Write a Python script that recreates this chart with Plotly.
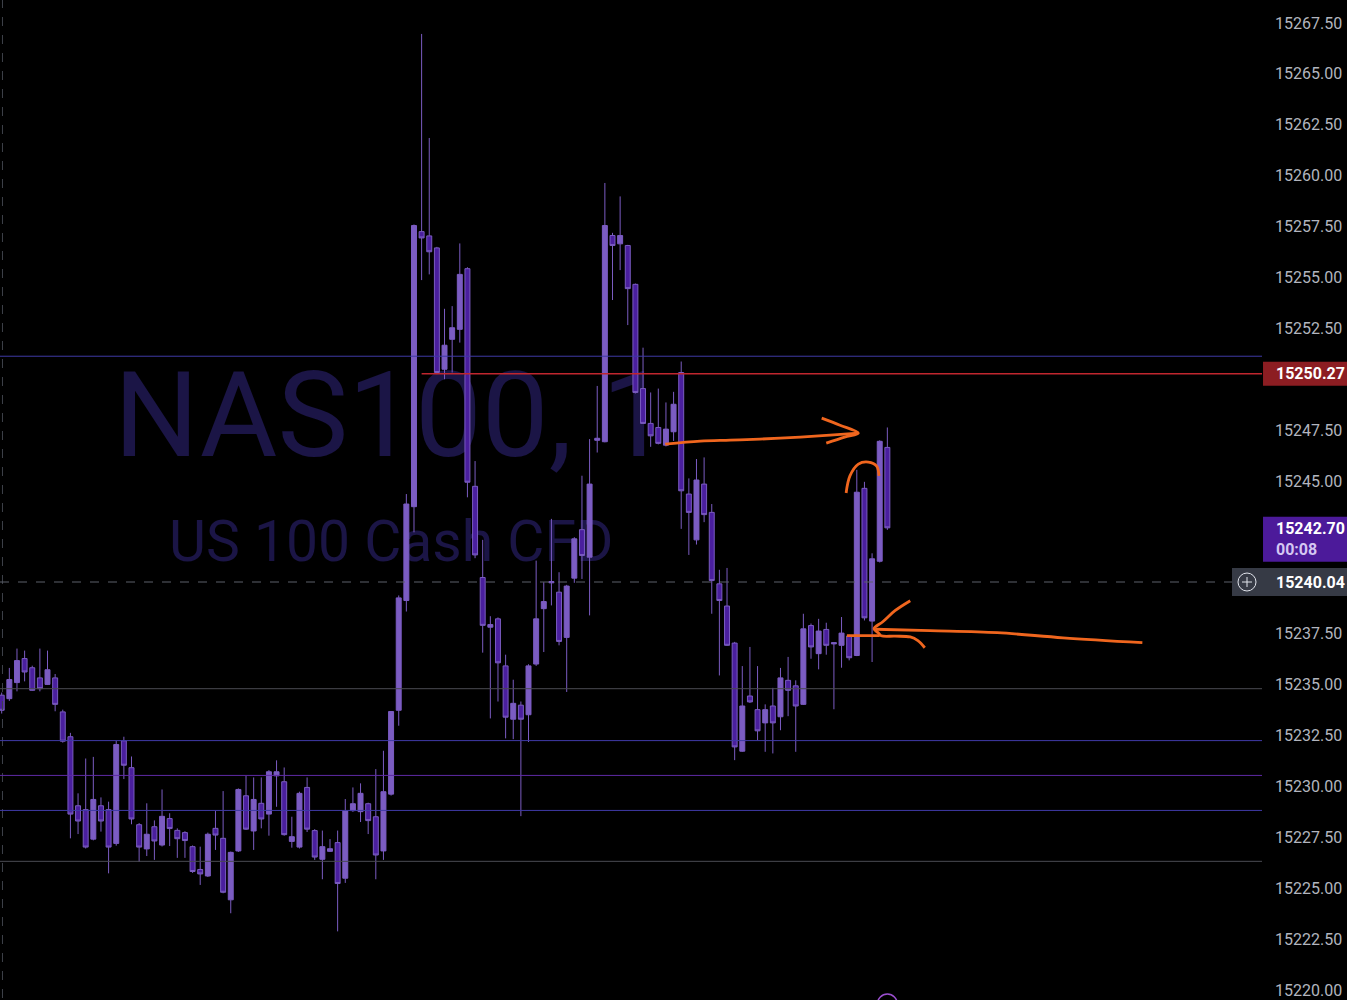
import plotly.graph_objects as go

# candle data, one entry per 1-minute bar
opens = [15234.48, 15234.31, 15235.10, 15236.28, 15235.83, 15235.33, 15235.01, 15235.33, 15233.66, 15232.44,
         15229.05, 15228.86, 15227.41, 15229.05, 15228.86, 15227.20, 15232.24, 15230.92, 15228.12, 15226.93,
         15228.02, 15227.12, 15228.42, 15227.84, 15227.73, 15227.04, 15225.92, 15225.60, 15227.94, 15227.45,
         15224.43, 15226.83, 15229.54, 15227.81, 15229.17, 15228.64, 15230.52, 15230.23, 15227.30, 15227.02,
         15229.95, 15227.83, 15226.42, 15226.81, 15227.24, 15225.49, 15228.81, 15228.76, 15229.15, 15228.51,
         15226.83, 15229.62, 15233.74, 15239.13, 15243.74, 15257.25, 15257.04, 15256.45, 15250.49, 15251.96,
         15252.45, 15255.43, 15244.74, 15240.26, 15237.82, 15238.23, 15235.92, 15233.30, 15233.99, 15233.52,
         15236.01, 15238.73, 15240.00, 15239.54, 15237.32, 15240.23, 15242.61, 15241.26, 15247.00, 15246.93,
         15257.06, 15256.65, 15256.57, 15254.66, 15249.54, 15247.83, 15247.63, 15246.76, 15247.42, 15250.33,
         15244.36, 15242.11, 15244.85, 15243.46, 15239.95, 15238.86, 15237.04, 15231.73, 15234.44, 15233.77,
         15233.12, 15233.95, 15233.42, 15235.21, 15234.94, 15234.03, 15237.90, 15236.52, 15237.71, 15237.00,
         15236.93, 15237.39, 15236.43, 15244.64, 15238.12, 15241.06, 15246.65]
highs = [15234.61, 15235.82, 15236.77, 15236.67, 15235.93, 15236.77, 15236.67, 15235.52, 15233.77, 15232.63,
         15229.66, 15231.37, 15231.45, 15229.46, 15229.25, 15232.24, 15232.44, 15231.47, 15228.20, 15229.17,
         15228.33, 15229.85, 15228.68, 15227.94, 15227.80, 15227.10, 15227.04, 15227.73, 15228.79, 15229.77,
         15226.80, 15229.90, 15230.52, 15230.44, 15230.44, 15230.80, 15231.28, 15230.93, 15228.51, 15229.74,
         15230.44, 15227.90, 15227.83, 15227.41, 15227.83, 15229.38, 15229.95, 15230.15, 15229.20, 15230.85,
         15231.75, 15233.70, 15239.38, 15244.36, 15257.60, 15266.96, 15261.85, 15256.50, 15253.46, 15253.59,
         15256.67, 15255.50, 15245.98, 15242.11, 15238.36, 15238.30, 15236.47, 15235.24, 15234.17, 15236.00,
         15241.09, 15240.03, 15243.14, 15240.52, 15239.90, 15242.24, 15245.26, 15247.06, 15249.67, 15259.64,
         15257.19, 15258.98, 15256.60, 15254.70, 15251.55, 15249.35, 15249.54, 15248.86, 15249.38, 15250.87,
         15245.13, 15246.08, 15246.16, 15243.87, 15240.64, 15240.73, 15237.10, 15235.91, 15236.85, 15235.91,
         15234.03, 15234.84, 15235.82, 15236.36, 15235.21, 15238.48, 15238.00, 15238.23, 15238.04, 15237.08,
         15238.32, 15237.45, 15245.55, 15244.96, 15241.45, 15247.00, 15247.63]
lows = [15233.58, 15234.20, 15234.67, 15235.16, 15234.70, 15234.67, 15234.98, 15233.69, 15232.15, 15227.45,
        15227.66, 15226.95, 15227.35, 15227.78, 15225.73, 15227.09, 15230.36, 15228.14, 15226.29, 15226.58,
        15226.39, 15227.05, 15227.07, 15226.49, 15226.49, 15225.75, 15225.16, 15225.55, 15226.88, 15224.75,
        15223.77, 15226.78, 15227.86, 15226.88, 15227.94, 15227.58, 15229.00, 15227.58, 15226.99, 15226.95,
        15227.76, 15226.39, 15225.44, 15226.78, 15222.88, 15225.26, 15228.75, 15228.25, 15227.66, 15225.44,
        15226.39, 15229.55, 15232.98, 15238.59, 15242.48, 15254.87, 15255.15, 15250.25, 15250.00, 15250.33,
        15251.80, 15244.20, 15241.21, 15236.57, 15233.34, 15234.17, 15232.36, 15232.32, 15228.54, 15232.18,
        15235.92, 15236.60, 15238.89, 15236.93, 15234.64, 15240.00, 15240.19, 15238.40, 15246.40, 15246.90,
        15253.89, 15255.36, 15252.66, 15249.30, 15247.80, 15246.68, 15246.80, 15246.70, 15246.97, 15242.65,
        15241.37, 15241.88, 15242.98, 15238.48, 15235.45, 15236.90, 15231.29, 15231.70, 15234.10, 15232.27,
        15231.70, 15231.62, 15232.76, 15233.45, 15231.70, 15234.00, 15236.27, 15235.75, 15236.47, 15233.79,
        15235.83, 15236.19, 15236.40, 15238.15, 15236.11, 15241.00, 15242.60]
closes = [15233.74, 15235.25, 15236.18, 15235.62, 15234.72, 15234.80, 15235.73, 15234.03, 15232.22, 15228.64,
          15228.30, 15227.02, 15229.36, 15228.30, 15227.02, 15232.06, 15231.04, 15228.40, 15227.02, 15227.65,
          15227.32, 15228.53, 15227.93, 15227.43, 15227.34, 15225.82, 15225.70, 15227.65, 15227.61, 15224.80,
          15226.76, 15229.85, 15227.90, 15229.36, 15228.40, 15230.72, 15230.72, 15227.63, 15227.53, 15229.66,
          15227.90, 15226.53, 15227.04, 15226.94, 15225.23, 15228.79, 15229.15, 15229.66, 15228.32, 15226.63,
          15229.74, 15233.68, 15239.26, 15243.87, 15257.55, 15256.94, 15256.26, 15250.33, 15251.67, 15252.53,
          15255.15, 15244.94, 15241.37, 15237.91, 15237.95, 15236.07, 15233.40, 15234.08, 15233.30, 15235.92,
          15238.23, 15239.08, 15240.06, 15237.12, 15239.84, 15242.16, 15241.34, 15244.85, 15247.10, 15257.55,
          15256.57, 15257.06, 15254.45, 15249.35, 15247.83, 15247.22, 15246.85, 15247.55, 15248.77, 15244.52,
          15243.46, 15245.05, 15243.35, 15240.11, 15239.13, 15236.93, 15231.94, 15233.95, 15234.15, 15232.73,
          15233.77, 15233.12, 15235.33, 15234.72, 15233.95, 15237.74, 15236.85, 15237.63, 15236.93, 15237.06,
          15237.53, 15236.32, 15244.45, 15238.28, 15241.18, 15246.95, 15242.70]
bars = list(range(len(closes)))

# price axis (labels hidden behind the price tags are left out)
y_ticks = [15220.0, 15222.5, 15225.0, 15227.5, 15230.0, 15232.5, 15235.0, 15237.5,
           15245.0, 15247.5, 15252.5, 15255.0, 15257.5, 15260.0, 15262.5, 15265.0, 15267.5]
last_price = 15242.70
countdown = "00:08"
prev_close = 15250.27
cursor_price = 15240.04

# horizontal levels drawn on the chart
blue_levels = [15251.13, 15232.25, 15228.82]
purple_levels = [15230.54]
gray_levels = [15234.80, 15226.32]

# freehand orange marks (bar index, price)
arrow1_x = [86.9, 91.5, 95.4, 99.3, 104.6, 108.5, 112.2]
arrow1_y = [15246.81, 15246.96, 15247.01, 15247.06, 15247.16, 15247.25, 15247.35]
head1_x = [107.4, 109.8, 112.2, 110.4, 108.0]
head1_y = [15248.09, 15247.74, 15247.35, 15247.16, 15246.86]
arc_x = [110.6, 111.1, 112.2, 113.5, 114.6, 114.9]
arc_y = [15244.41, 15245.25, 15245.83, 15245.93, 15245.73, 15245.25]
arrow2_x = [149.4, 139.0, 130.4, 121.6, 114.4]
arrow2_y = [15237.06, 15237.30, 15237.55, 15237.65, 15237.72]
head2_x = [119.0, 117.0, 115.4, 114.25, 114.8, 115.2, 117.0, 119.0, 120.0, 120.9]
head2_y = [15239.12, 15238.63, 15238.09, 15237.74, 15237.55, 15237.40, 15237.38, 15237.34, 15237.16, 15236.81]
stub_x = [110.7, 115.0]
stub_y = [15237.41, 15237.41]

W, H = 1347, 1000
R_MARGIN = 85
PLOT_W = W - R_MARGIN
X_RANGE = [-0.223, 165.07]
Y_RANGE = [15219.607, 15268.627]
PER_PX = (Y_RANGE[1] - Y_RANGE[0]) / H
RIGHT_EDGE = W / PLOT_W

fig = go.Figure()

fig.add_trace(go.Candlestick(
    x=bars, open=opens, high=highs, low=lows, close=closes,
    increasing=dict(fillcolor="#7b5cc2", line=dict(color="#7b5cc2", width=1)),
    decreasing=dict(fillcolor="#4a1f9e", line=dict(color="#7a5cc0", width=1)),
    whiskerwidth=0, hoverinfo="skip", showlegend=False))

orange = "#f0661e"
for xs, ys in [(arrow1_x, arrow1_y), (head1_x, head1_y), (arc_x, arc_y),
               (arrow2_x, arrow2_y), (head2_x, head2_y), (stub_x, stub_y)]:
    fig.add_trace(go.Scatter(x=xs, y=ys, mode="lines", line=dict(color=orange, width=2.8, shape="spline"),
                             hoverinfo="skip", showlegend=False))

shapes = []
# watermark behind candles
shapes.append(dict(type="rect", xref="paper", yref="paper", x0=0.05, x1=0.57, y0=0.543, y1=0.643,
                   layer="below", line=dict(width=0), fillcolor="rgba(0,0,0,0)",
                   label=dict(text="NAS100, 1", font=dict(size=119, color="#1b1546", family="Roboto"),
                              textposition="middle center")))
shapes.append(dict(type="rect", xref="paper", yref="paper", x0=0.05, x1=0.57, y0=0.426, y1=0.496,
                   layer="below", line=dict(width=0), fillcolor="rgba(0,0,0,0)",
                   label=dict(text="US 100 Cash CFD", font=dict(size=57, color="#1b1546", family="Roboto"),
                              textposition="middle center")))

# session separator
shapes.append(dict(type="line", xref="x", yref="paper", x0=0.1, x1=0.1, y0=0, y1=1,
                   line=dict(color="#3e414a", width=1, dash="dash")))

for lv in blue_levels:
    shapes.append(dict(type="line", xref="paper", yref="y", x0=0, x1=1, y0=lv, y1=lv,
                       line=dict(color="#3f3aa6", width=1)))
for lv in purple_levels:
    shapes.append(dict(type="line", xref="paper", yref="y", x0=0, x1=1, y0=lv, y1=lv,
                       line=dict(color="#5f2aa5", width=1)))
for lv in gray_levels:
    shapes.append(dict(type="line", xref="paper", yref="y", x0=0, x1=1, y0=lv, y1=lv,
                       line=dict(color="#4a4b52", width=1)))

# previous close line and tag
shapes.append(dict(type="line", xref="x", yref="y", x0=55, x1=X_RANGE[1], y0=prev_close, y1=prev_close,
                   line=dict(color="#c0262e", width=1.3)))
shapes.append(dict(type="rect", xref="paper", yref="y", x0=1.0008, x1=RIGHT_EDGE,
                   y0=prev_close - 12 * PER_PX, y1=prev_close + 12 * PER_PX,
                   line=dict(width=0), fillcolor="#8c1d22"))

# last price tag with countdown
shapes.append(dict(type="rect", xref="paper", yref="y", x0=1.0008, x1=RIGHT_EDGE,
                   y0=last_price - 34 * PER_PX, y1=last_price + 11 * PER_PX,
                   line=dict(width=0), fillcolor="#4c1a9a"))

# crosshair line and label
shapes.append(dict(type="line", xref="paper", yref="y", x0=0, x1=1, y0=cursor_price, y1=cursor_price,
                   line=dict(color="#5d606b", width=1, dash="dash")))
shapes.append(dict(type="rect", xref="paper", yref="y", x0=1232 / PLOT_W, x1=RIGHT_EDGE,
                   y0=cursor_price - 14 * PER_PX, y1=cursor_price + 14 * PER_PX,
                   line=dict(width=0), fillcolor="#363a45"))
cx = 1247 / PLOT_W
shapes.append(dict(type="circle", xref="paper", yref="y", x0=cx - 9 / PLOT_W, x1=cx + 9 / PLOT_W,
                   y0=cursor_price - 9 * PER_PX, y1=cursor_price + 9 * PER_PX,
                   line=dict(color="#e0e3eb", width=1)))
shapes.append(dict(type="line", xref="paper", yref="y", x0=cx - 5 / PLOT_W, x1=cx + 5 / PLOT_W,
                   y0=cursor_price, y1=cursor_price, line=dict(color="#e0e3eb", width=1)))
shapes.append(dict(type="line", xref="paper", yref="y", x0=cx, x1=cx,
                   y0=cursor_price - 5 * PER_PX, y1=cursor_price + 5 * PER_PX, line=dict(color="#e0e3eb", width=1)))

# event marker at the bottom edge
shapes.append(dict(type="circle", xref="x", yref="paper", x0=bars[-1] - 1.3, x1=bars[-1] + 1.3,
                   y0=-0.016, y1=0.004, line=dict(color="#9b4fd0", width=1.5)))

tag_font = dict(color="#ffffff", size=16, weight="bold")
annotations = [
    dict(text=f"{prev_close:.2f}", xref="paper", yref="y", x=1, y=prev_close, xanchor="left", yanchor="middle",
         xshift=12, showarrow=False, font=tag_font),
    dict(text=f"{last_price:.2f}", xref="paper", yref="y", x=1, y=last_price - 1 * PER_PX, xanchor="left",
         yanchor="middle", xshift=12, showarrow=False, font=tag_font),
    dict(text=countdown, xref="paper", yref="y", x=1, y=last_price - 22 * PER_PX, xanchor="left",
         yanchor="middle", xshift=12, showarrow=False, font=dict(color="#d4c6f2", size=16, weight="bold")),
    dict(text=f"{cursor_price:.2f}", xref="paper", yref="y", x=1, y=cursor_price, xanchor="left",
         yanchor="middle", xshift=12, showarrow=False, font=tag_font),
]

fig.update_layout(
    width=W, height=H, autosize=False,
    margin=dict(l=0, r=R_MARGIN, t=0, b=0),
    paper_bgcolor="#000000", plot_bgcolor="#000000",
    font=dict(family="Roboto", color="#b2b5be"),
    boxgap=0.35, boxgroupgap=0,
    shapes=shapes, annotations=annotations,
    xaxis=dict(range=X_RANGE, visible=False, rangeslider=dict(visible=False), fixedrange=True),
    yaxis=dict(range=Y_RANGE, side="right", tickvals=y_ticks, tickformat=".2f",
               showgrid=False, zeroline=False, showline=False, ticks="",
               ticklabelstandoff=12, ticklabeloverflow="allow",
               tickfont=dict(size=16, color="#b2b5be")),
)

# drop the default page margin so the chart fills the window
fig.write_html("out.html", config={"displayModeBar": False},
               post_script="document.body.style.margin='0';document.body.style.overflow='hidden';")
